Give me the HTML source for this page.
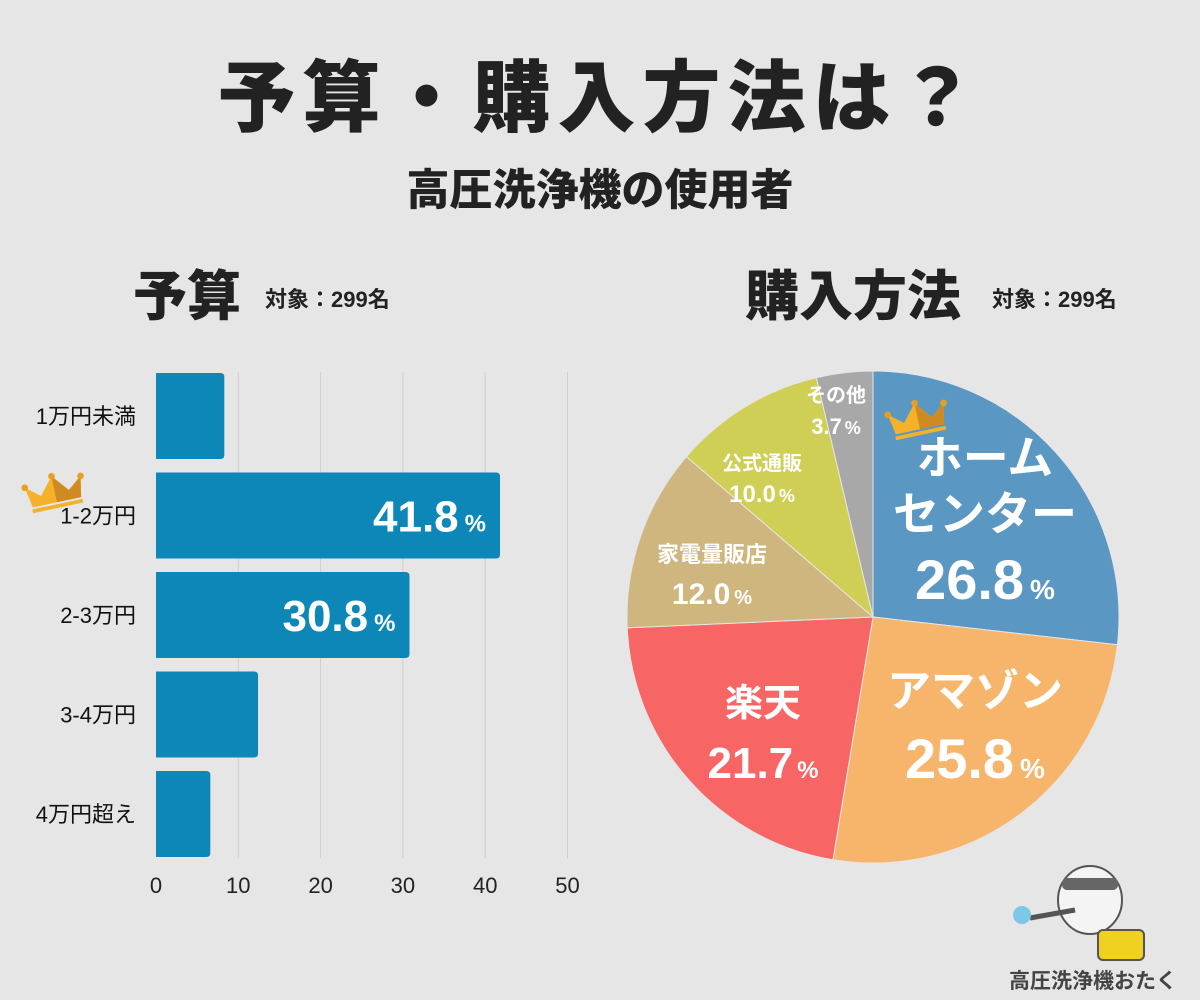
<!DOCTYPE html>
<html><head><meta charset="utf-8">
<style>
body{margin:0;background:#e6e6e6;}
#root{position:relative;width:1200px;height:1000px;background:#e6e6e6;font-family:"Liberation Sans","Noto Sans CJK JP",sans-serif;overflow:hidden;}
.t{position:absolute;color:#222;font-weight:900;white-space:nowrap;}
</style></head><body>
<div id="root">
<div class="t" style="left:0;width:1200px;text-align:center;top:36px;font-size:78px;letter-spacing:7px;">予算・購入方法は？</div>
<div class="t" style="left:0;width:1200px;text-align:center;top:156px;font-size:43px;">高圧洗浄機の使用者</div>
<div class="t" style="left:133px;top:252px;font-size:54px;">予算</div>
<div class="t" style="left:265px;top:282px;font-size:22px;font-weight:700;">対象：299名</div>
<div class="t" style="left:745px;top:252px;font-size:54px;">購入方法</div>
<div class="t" style="left:992px;top:282px;font-size:22px;font-weight:700;">対象：299名</div>
<svg id="chart" width="1200" height="1000" style="position:absolute;left:0;top:0"></svg>
</div>
<script>
const barCats=["1万円未満","1-2万円","2-3万円","3-4万円","4万円超え"];
const barVals=[8.3,41.8,30.8,12.4,6.6];
const barLabels=["","41.8","30.8","",""];
const xTicks=[0,10,20,30,40,50];
const pieCats=["ホームセンター","アマゾン","楽天","家電量販店","公式通販","その他"];
const pieVals=[26.8,25.8,21.7,12.0,10.0,3.7];
const pieColors=["#5b97c3","#f6b56b","#f76565","#cfb67f","#cfcf55","#a8a8a8"];

const NS="http://www.w3.org/2000/svg";
const svg=document.getElementById('chart');
function mk(t,a,p){const e=document.createElementNS(NS,t);for(const k in a)e.setAttribute(k,a[k]);(p||svg).appendChild(e);return e;}
const x0=156,pxu=8.23;
const xs=v=>x0+v*pxu;
const ys=i=>373+i*99.5;
const bh=86;
xTicks.forEach(t=>{
 if(t>0){const l=mk('line',{x1:xs(t),x2:xs(t),y1:372,y2:858,stroke:'#cfcfcf','stroke-width':1});
 
 }
 const tx=mk('text',{x:xs(t),y:893,'text-anchor':'middle','font-size':22,fill:'#222'});
 tx.textContent=t;
 
 
});
barCats.forEach((c,i)=>{
 const w=xs(barVals[i])-x0,y=ys(i);
 const p=mk('path',{d:`M${x0},${y}H${x0+w-4}Q${x0+w},${y} ${x0+w},${y+4}V${y+bh-4}Q${x0+w},${y+bh} ${x0+w-4},${y+bh}H${x0}Z`,fill:'#0c87b8'});
 
 
 const lb=mk('text',{x:136,y:y+bh/2+8,'text-anchor':'end','font-size':22,fill:'#111','font-family':'"Liberation Sans","Noto Sans CJK JP",sans-serif'});
 lb.textContent=c;
 
 
 if(barLabels[i]){
  const v=mk('text',{x:x0+w-14,y:y+bh/2+16,'text-anchor':'end',fill:'#fff','font-weight':'bold','font-size':44});
  v.innerHTML=barLabels[i]+'<tspan font-size="24" dx="6">%</tspan>';
  
  
 }
});
function crown(cx,cy,s,name){const g=mk('g',{transform:`translate(${cx},${cy}) rotate(-12) scale(${s})`});
 
 
 mk('path',{d:'M-26,10 L-30,-12 L-15,0 L0,-18 L15,0 L30,-12 L26,10Z',fill:'#f5b12a'},g);
 mk('path',{d:'M0,-18 L15,0 L30,-12 L26,10 L0,10Z',fill:'#cf8a22'},g);
 mk('rect',{x:-27,y:12,width:54,height:4,fill:'#f5b12a'},g);
 [[-30,-12],[0,-18],[30,-12]].forEach(p=>mk('circle',{cx:p[0],cy:p[1],r:3.5,fill:'#e8a020'},g));}
crown(55,493,0.95,'crown-icon-bar');
const cx=873,cy=617,r=246;
let tot=pieVals.reduce((a,b)=>a+b,0),acc=0;
pieVals.forEach((v,i)=>{
 const a0=acc/tot*2*Math.PI,a1=(acc+v)/tot*2*Math.PI;acc+=v;
 const P=a=>[cx+r*Math.sin(a),cy-r*Math.cos(a)];
 const [x1,y1]=P(a0),[x2,y2]=P(a1);
 const s=mk('path',{d:`M${cx},${cy}L${x1},${y1}A${r},${r} 0 ${a1-a0>Math.PI?1:0} 1 ${x2},${y2}Z`,fill:pieColors[i],stroke:'#e6e6e6','stroke-width':1});
 
 
});
function lbl(lines,x,y,name){const g=mk('g',{});
 
 
 lines.forEach(l=>{const t=mk('text',{x:x,y:l[1]+y,'text-anchor':'middle',fill:'#fff','font-weight':'bold','font-size':l[2],'font-family':'"Liberation Sans","Noto Sans CJK JP",sans-serif'},g);t.innerHTML=l[0];});}
const pc=v=>v.toFixed(1);
lbl([["ホーム",0,46],["センター",56,46],[pc(pieVals[0])+'<tspan font-size="28" dx="6">%</tspan>',125,56]],985,474,'label-home-center');
lbl([["アマゾン",0,44],[pc(pieVals[1])+'<tspan font-size="28" dx="6">%</tspan>',72,56]],975,706,'label-amazon');
lbl([["楽天",0,38],[pc(pieVals[2])+'<tspan font-size="24" dx="4">%</tspan>',62,44]],763,716,'label-rakuten');
lbl([["家電量販店",0,22],[pc(pieVals[3])+'<tspan font-size="20" dx="4">%</tspan>',42,30]],712,562,'label-electronics');
lbl([["公式通販",0,20],[pc(pieVals[4])+'<tspan font-size="18" dx="3">%</tspan>',32,24]],762,470,'label-official');
lbl([["その他",0,20],[pc(pieVals[5])+'<tspan font-size="18" dx="3">%</tspan>',32,22]],836,402,'label-other');
crown(918,420,0.95,'crown-icon-pie');
const m=mk('g',{});


mk('ellipse',{cx:1090,cy:900,rx:32,ry:34,fill:'#f4f4f4',stroke:'#555','stroke-width':2},m);
mk('rect',{x:1062,y:878,width:56,height:12,rx:5,fill:'#666'},m);
mk('rect',{x:1098,y:930,width:46,height:30,rx:5,fill:'#f0d020',stroke:'#555','stroke-width':2},m);
mk('line',{x1:1030,y1:918,x2:1075,y2:910,stroke:'#555','stroke-width':5},m);
mk('circle',{cx:1022,cy:915,r:9,fill:'#7cc8e8'},m);
const mt=mk('text',{x:1093,y:988,'text-anchor':'middle','font-size':21,fill:'#444','font-weight':'bold','font-family':'"Liberation Sans","Noto Sans CJK JP",sans-serif'},m);
mt.textContent='高圧洗浄機おたく';
</script>
</body></html>
